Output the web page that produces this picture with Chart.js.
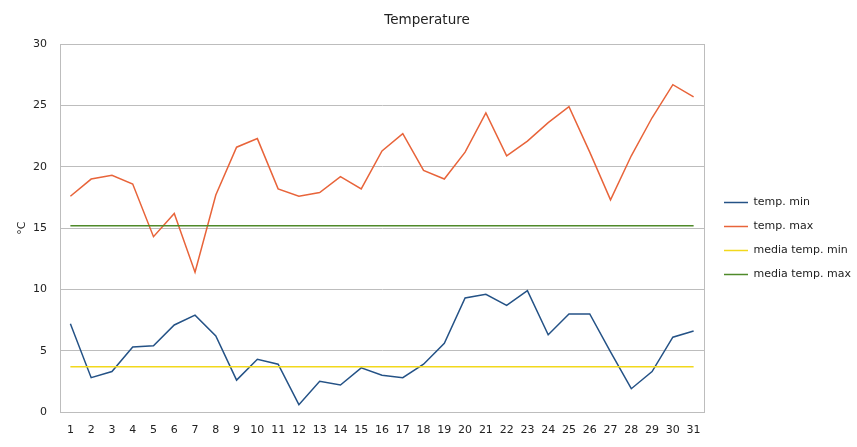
<!DOCTYPE html>
<html>
<head>
<meta charset="utf-8">
<script src="https://cdn.jsdelivr.net/npm/chart.js@4"></script>
<style>
  html, body { margin: 0; padding: 0; background: #fff; }
  #wrap { width: 857px; height: 447px; }
</style>
</head>
<body>
<div id="wrap"><canvas id="tempChart" width="857" height="447"></canvas></div>
<script>
const days = ['1','2','3','4','5','6','7','8','9','10','11','12','13','14','15','16',
  '17','18','19','20','21','22','23','24','25','26','27','28','29','30','31'];

const tempMin = [7.2, 2.8, 3.3, 5.3, 5.4, 7.1, 7.9, 6.2, 2.6, 4.3, 3.9, 0.6, 2.5, 2.2, 3.6, 3.0,
  2.8, 3.9, 5.6, 9.3, 9.6, 8.7, 9.9, 6.3, 8.0, 8.0, 4.9, 1.9, 3.3, 6.1, 6.6];

const tempMax = [17.6, 19.0, 19.3, 18.6, 14.3, 16.2, 11.4, 17.7, 21.6, 22.3, 18.2, 17.6, 17.9, 19.2, 18.2, 21.3,
  22.7, 19.7, 19.0, 21.2, 24.4, 20.9, 22.1, 23.6, 24.9, 21.2, 17.3, 20.9, 24.0, 26.7, 25.7];

const mediaMin = [3.7, 3.7, 3.7, 3.7, 3.7, 3.7, 3.7, 3.7, 3.7, 3.7, 3.7, 3.7, 3.7, 3.7, 3.7, 3.7,
  3.7, 3.7, 3.7, 3.7, 3.7, 3.7, 3.7, 3.7, 3.7, 3.7, 3.7, 3.7, 3.7, 3.7, 3.7];

const mediaMax = [15.2, 15.2, 15.2, 15.2, 15.2, 15.2, 15.2, 15.2, 15.2, 15.2, 15.2, 15.2, 15.2, 15.2, 15.2, 15.2,
  15.2, 15.2, 15.2, 15.2, 15.2, 15.2, 15.2, 15.2, 15.2, 15.2, 15.2, 15.2, 15.2, 15.2, 15.2];

const yTicks = [0, 5, 10, 15, 20, 25, 30];

const FONT = 'DejaVu Sans';
const TEXT = '#222';

// grey frame round the plot area, like the spreadsheet chart
const plotFrame = {
  id: 'plotFrame',
  afterLayout(chart) {
    // nudge the legend a bit away from the plot
    chart.legend.left += 7;
    chart.legend.right += 7;
  },
  afterDraw(chart) {
    const a = chart.chartArea;
    const ctx = chart.ctx;
    ctx.save();
    ctx.strokeStyle = '#bdbdbd';
    ctx.lineWidth = 1;
    ctx.strokeRect(Math.round(a.left) + 0.5, Math.round(a.top) + 0.5,
      Math.round(a.right - a.left), Math.round(a.bottom - a.top));
    ctx.restore();
  }
};

function lineSet(label, data, color, order) {
  return {
    label: label,
    data: data,
    borderColor: color,
    backgroundColor: color,
    borderWidth: 1.5,
    pointRadius: 0,
    pointHoverRadius: 0,
    tension: 0,
    fill: false,
    order: order
  };
}

new Chart(document.getElementById('tempChart'), {
  type: 'line',
  data: {
    labels: days,
    datasets: [
      lineSet('temp. min', tempMin, '#245286', 1),
      lineSet('temp. max', tempMax, '#E8643A', 1),
      lineSet('media temp. min', mediaMin, '#F2D81C', 0),
      lineSet('media temp. max', mediaMax, '#4F8A2A', 0)
    ]
  },
  options: {
    responsive: false,
    animation: false,
    layout: { padding: { left: 0, right: 3, top: 0, bottom: 0 } },
    plugins: {
      title: {
        display: true,
        text: 'Temperature',
        color: TEXT,
        font: { family: FONT, size: 13.5, weight: 'normal', lineHeight: 1.2 },
        padding: { top: 12, bottom: 16 }
      },
      legend: {
        position: 'right',
        align: 'center',
        title: { display: true, text: ' ', font: { size: 1, lineHeight: 1 }, padding: { top: 29, bottom: 0 } },
        labels: {
          color: TEXT,
          font: { family: FONT, size: 11 },
          boxWidth: 24,
          boxHeight: 1.5,
          padding: 13,
          generateLabels(chart) {
            return chart.data.datasets.map((ds, i) => ({
              text: ds.label,
              fillStyle: ds.borderColor,
              strokeStyle: ds.borderColor,
              fontColor: TEXT,
              lineWidth: 0,
              datasetIndex: i,
              hidden: false
            }));
          }
        }
      },
      tooltip: { enabled: false }
    },
    scales: {
      x: {
        type: 'category',
        offset: true,
        grid: { display: false, drawTicks: false },
        border: { display: true, color: '#bdbdbd' },
        ticks: { color: TEXT, font: { family: FONT, size: 11 }, padding: 12, maxRotation: 0, autoSkip: false },
        afterFit(scale) { scale.height = 35; }
      },
      y: {
        min: 0,
        max: 30,
        afterBuildTicks(scale) { scale.ticks = yTicks.map(v => ({ value: v })); },
        grid: { color: '#bdbdbd', drawTicks: false },
        border: { display: true, color: '#bdbdbd' },
        ticks: { color: TEXT, font: { family: FONT, size: 11 }, padding: 13 },
        title: {
          display: true,
          text: '°C',
          color: TEXT,
          font: { family: FONT, size: 11 },
          padding: { top: 16, bottom: 0 }
        },
        afterFit(scale) { scale.width = 60; }
      }
    }
  },
  plugins: [plotFrame]
});
</script>
</body>
</html>
